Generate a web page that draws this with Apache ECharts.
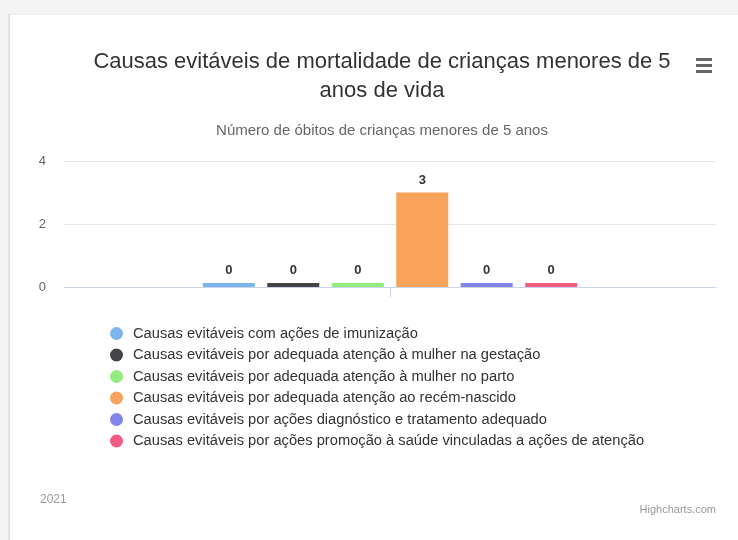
<!DOCTYPE html>
<html>
<head>
<meta charset="utf-8">
<script src="https://cdn.jsdelivr.net/npm/echarts@6/dist/echarts.min.js"></script>
<style>
  html, body { margin: 0; padding: 0; background: #f4f4f4; }
  #card { position: absolute; left: 8px; top: 14px; width: 730px; height: 526px; background: #fff; border-left: 2px solid #e2e2e2; border-top: 1px solid #ececec; }
  #main { position: absolute; left: 0; top: 0; width: 738px; height: 540px; }
</style>
</head>
<body>
<div id="card"></div>
<div id="main"></div>
<script>
  const categories = ["2021"];
  const seriesNames = [
    "Causas evitáveis com ações de imunização",
    "Causas evitáveis por adequada atenção à mulher na gestação",
    "Causas evitáveis por adequada atenção à mulher no parto",
    "Causas evitáveis por adequada atenção ao recém-nascido",
    "Causas evitáveis por ações diagnóstico e tratamento adequado",
    "Causas evitáveis por ações promoção à saúde vinculadas a ações de atenção",
  ];
  const seriesValues = [[0], [0], [0], [3], [0], [0]];
  const colors = ["#7cb5ec", "#434348", "#90ed7d", "#f7a35c", "#8085e9", "#f15c80"];
  const yTicks = [0, 2, 4];

  const font = "'Liberation Sans', sans-serif";
  var myChart = echarts.init(document.getElementById("main"));

  var option = {
    color: colors,
    animation: false,
    textStyle: { fontFamily: font },
    title: {
      text: "Causas evitáveis de mortalidade de crianças menores de 5\nanos de vida",
      subtext: "Número de óbitos de crianças menores de 5 anos",
      left: 377,
      textAlign: "center",
      top: 42,
      itemGap: 18,
      textStyle: { fontFamily: font, fontSize: 22, fontWeight: "normal", color: "#333", lineHeight: 29 },
      subtextStyle: { fontFamily: font, fontSize: 15, color: "#666" },
    },
    legend: {
      orient: "vertical",
      left: 105,
      top: 321,
      icon: "circle",
      itemWidth: 13,
      itemHeight: 13,
      itemGap: 6.5,
      data: seriesNames,
      textStyle: { fontFamily: font, fontSize: 14.7, color: "#333", padding: [0, 0, 0, 5] },
    },
    grid: { left: 64, right: 22, top: 161, bottom: 253, containLabel: false },
    xAxis: {
      type: "category",
      data: categories,
      axisLine: { lineStyle: { color: "#ccd6eb" } },
      axisTick: { show: true, alignWithLabel: true, length: 10, lineStyle: { color: "#ccd6eb" } },
      axisLabel: { show: false },
    },
    yAxis: {
      type: "value",
      min: yTicks[0],
      max: yTicks[yTicks.length - 1],
      interval: 2,
      axisLabel: { color: "#666", fontSize: 13, margin: 18, fontFamily: font },
      splitLine: { lineStyle: { color: "#e6e6e6" } },
      axisLine: { show: false },
      axisTick: { show: false },
    },
    series: seriesNames.map((name, i) => ({
      name: name,
      type: "bar",
      data: seriesValues[i],
      barWidth: 52,
      barGap: "24%",
      barMinHeight: 4,
      label: {
        show: true,
        position: "top",
        distance: 6,
        fontFamily: font,
        fontWeight: "bold",
        fontSize: 13,
        color: "#333",
      },
    })),
    graphic: [
      { type: "text", left: 40, top: 494, style: { text: "2021", fontFamily: font, fontSize: 12, fill: "#999" } },
      { type: "text", right: 22, top: 504, style: { text: "Highcharts.com", fontFamily: font, fontSize: 11, fill: "#999" } },
      { type: "rect", shape: { x: 696, y: 58, width: 16, height: 3 }, style: { fill: "#666" } },
      { type: "rect", shape: { x: 696, y: 64, width: 16, height: 3 }, style: { fill: "#666" } },
      { type: "rect", shape: { x: 696, y: 70, width: 16, height: 3 }, style: { fill: "#666" } },
    ],
  };

  myChart.setOption(option);
</script>
</body>
</html>
